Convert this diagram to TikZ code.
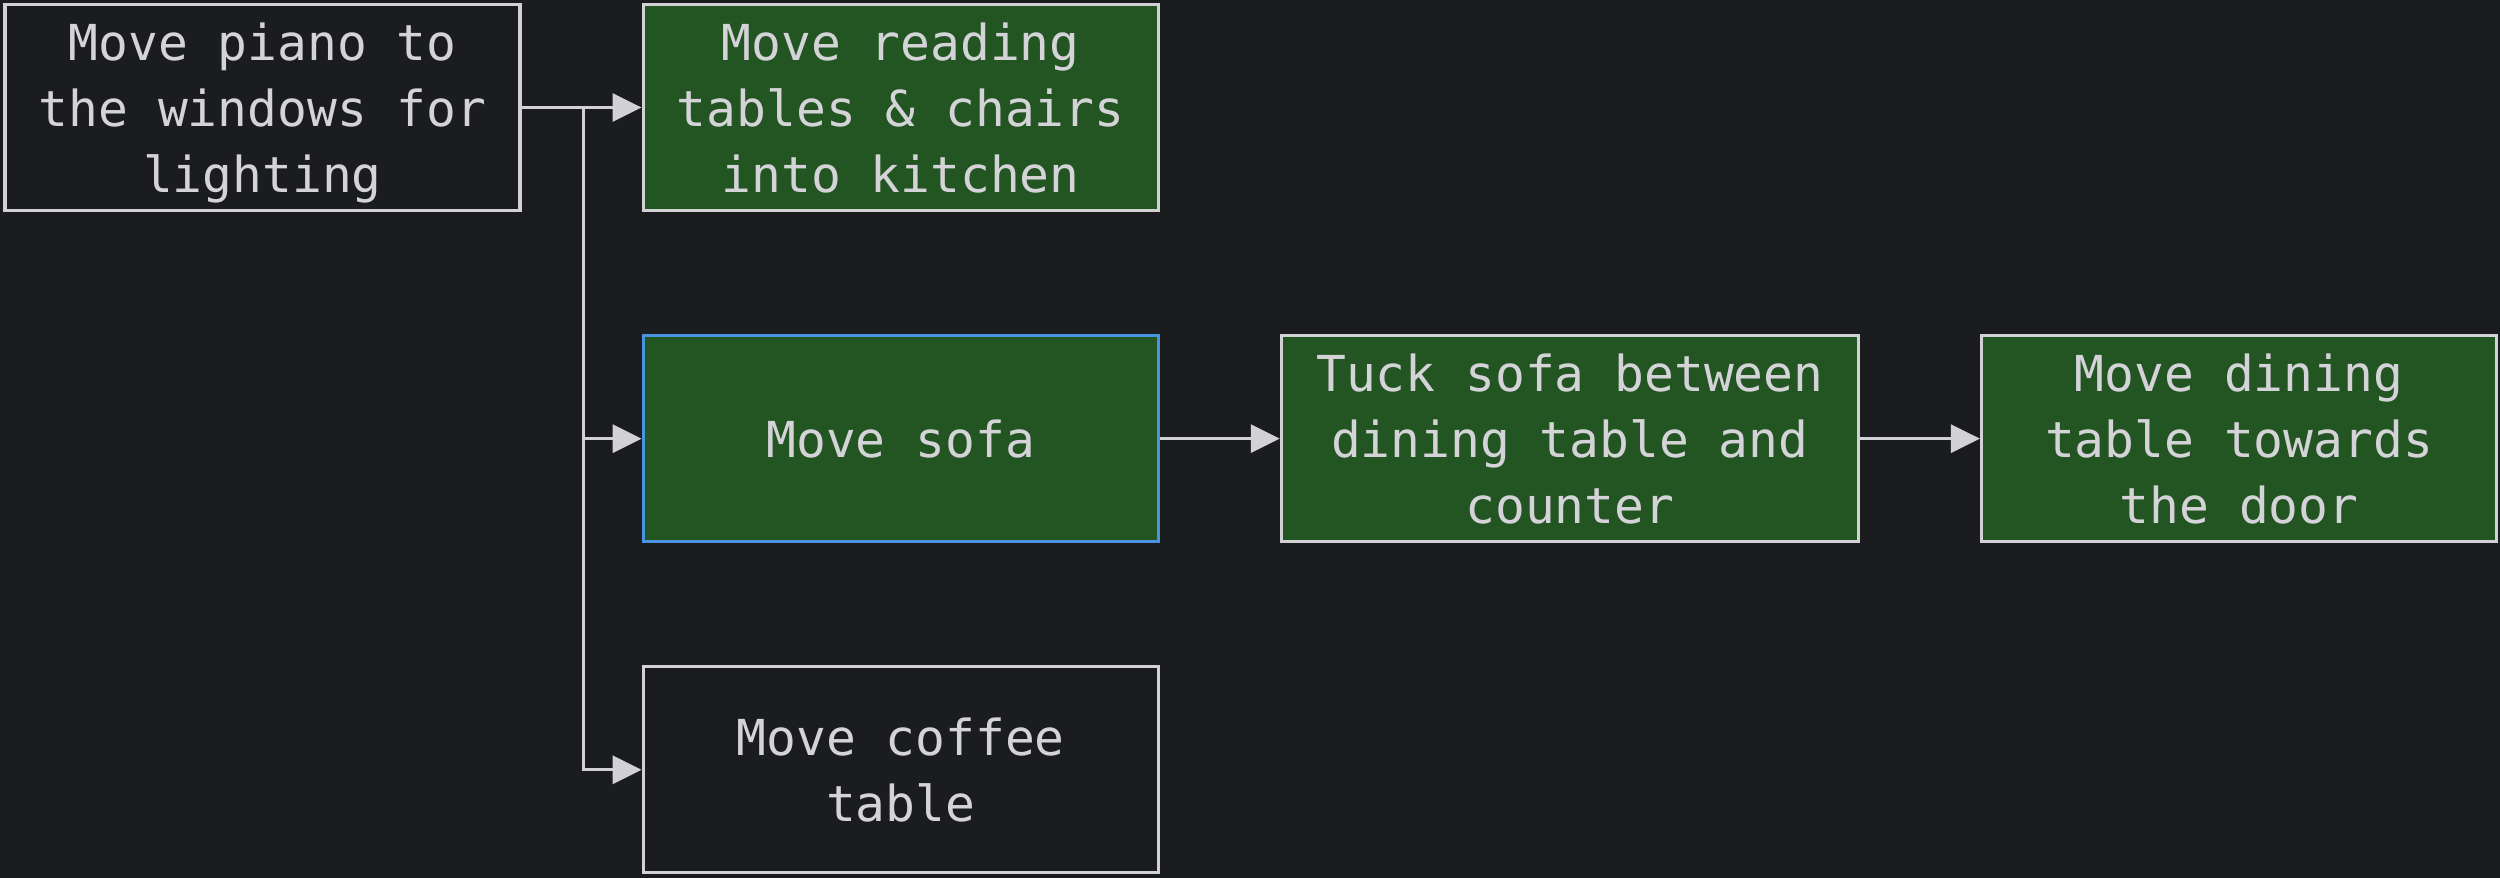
\documentclass[tikz,border=0pt]{standalone}
\usepackage{fontspec}
\setmonofont{DejaVu Sans Mono}
\usepackage{tikz}
\usetikzlibrary{positioning}
\usetikzlibrary{arrows.meta}
\definecolor{bgdark}{HTML}{1B1C1E}
\definecolor{doneg}{HTML}{235523}
\definecolor{edgegray}{HTML}{D2D2D6}
\definecolor{txtgray}{HTML}{D4D4D8}
\definecolor{selblue}{HTML}{4A93E0}
\tikzstyle{task}=[rectangle, sharp corners, line width=0.9pt, draw=edgegray,
  fill=bgdark, text=txtgray, minimum width=5.15cm, minimum height=2.06cm,
  inner sep=0pt, align=center, text depth=0pt,
  font=\ttfamily\fontsize{14.1}{18.8}\selectfont]
\tikzstyle{done}=[task, fill=doneg]
\tikzstyle{current}=[done, draw=selblue]
\tikzstyle{arrflow}=[-{Triangle[length=0.29cm, width=0.28cm]}, line width=0.9pt,
  draw=edgegray]

\begin{document}
\begin{tikzpicture}[node distance=1.22cm and 1.20cm]

\fill[bgdark] (0,0) rectangle (25,-8.78);

\node[task] at (2.625,-1.075) (piano) {Move piano to\\the windows for\\lighting};
\node[done, right=of piano] (reading) {Move reading\\tables \& chairs\\into kitchen};
\node[current, below=of reading] (sofa) {Move sofa};
\node[task, below=of sofa] (coffee) {Move coffee\\table};
\node[done, right=of sofa, minimum width=5.77cm] (tuck) {Tuck sofa between\\dining table and\\counter};
\node[done, right=of tuck] (dining) {Move dining\\table towards\\the door};

\coordinate (fork) at ([xshift=0.62cm]piano.east);

\draw[arrflow] (piano.east) -- (reading.west);
\draw[arrflow] (piano.east) -- (fork) |- (sofa.west);
\draw[arrflow] (piano.east) -- (fork) |- (coffee.west);
\draw[arrflow] (sofa) -- (tuck);
\draw[arrflow] (tuck) -- (dining);

\end{tikzpicture}
\end{document}
